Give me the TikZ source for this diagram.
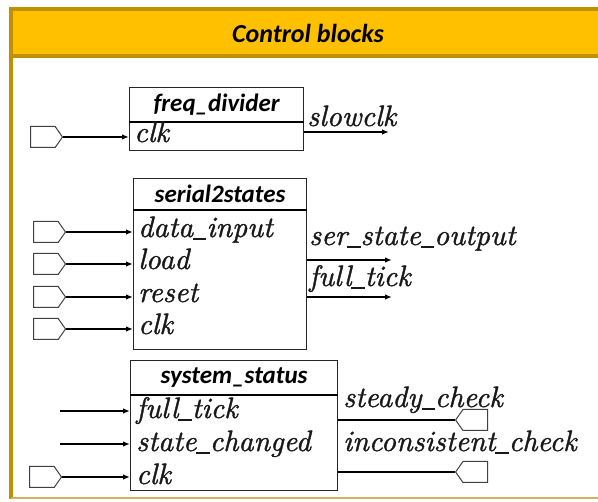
\documentclass[tikz,border=0pt]{standalone}
\usepackage{fontspec}
\newfontfamily\hdrfont{Carlito}
\newfontfamily\sigfont{lmroman10-italic.otf}[FakeBold=1.2]
\usetikzlibrary{shapes.symbols,arrows.meta}
\definecolor{gold}{HTML}{FFC000}
\definecolor{golddark}{HTML}{BF9000}
\definecolor{goldlight}{HTML}{D2B25A}
% short underscore for signal names
\newcommand\usc{\rule[-0.1em]{0.45em}{0.06em}}

\tikzset{
  hdrbox/.style={draw=black!85, line width=1.2pt, inner sep=0pt,
    font=\hdrfont\bfseries\itshape\fontsize{25}{25}\selectfont},
  bodybox/.style={draw=black!85, line width=1.2pt, inner sep=0pt},
  hdrline/.style={draw=black, line width=2pt},
  sig/.style={font=\sigfont\fontsize{29.5}{29.5}\selectfont, inner sep=0pt, text=black!90},
  inport/.style={draw=black!75, line width=1pt, signal, signal to=east,
    signal pointer angle=110, minimum width=32pt, minimum height=21pt, inner sep=0pt},
  outport/.style={draw=black!75, line width=1pt, signal, signal to=west,
    signal pointer angle=110, minimum width=32pt, minimum height=21pt, inner sep=0pt},
  wire/.style={line width=1.6pt, -{Latex[length=7pt,width=5.5pt]}},
  plainwire/.style={line width=1.6pt},
  titletext/.style={font=\hdrfont\bfseries\itshape\fontsize{26}{26}\selectfont, inner sep=0pt}
}

\begin{document}
\begin{tikzpicture}[x=1pt,y=-1pt]
\useasboundingbox (0,0) rectangle (598,502);
\fill[white] (0,0) rectangle (598,502);

% frame and title band
\fill[gold] (10.5,9.5) rectangle (606,56);
\draw[golddark, line width=4pt] (606,9.5) -- (10.5,9.5) -- (10.5,499);
\draw[golddark, line width=4pt] (10.5,56) -- (606,56);
\draw[goldlight, line width=2pt] (10.5,498.5) -- (606,498.5);
\node[titletext] (title) at (308,33) {Control blocks};

% ---------- freq_divider ----------
\node[hdrbox, minimum width=174pt, minimum height=34pt, anchor=north west] (fd-h) at (129,87) {freq\_divider};
\node[bodybox, minimum width=174pt, minimum height=29pt, anchor=north west] (fd) at (129,121) {};
\draw[hdrline] (fd-h.south west) -- (fd-h.south east);
\node[sig, anchor=base west] (fd-clk) at (134,142) {clk};
\node[inport, anchor=west] (fd-p) at (30,137) {};
\draw[wire] (fd-p.east) -- (fd.west |- fd-p.east);
\coordinate (fd-o) at (389,132);
\draw[wire] (fd.east |- fd-o) -- (fd-o);
\node[sig, anchor=base west] (fd-out) at (307,126) {slowclk};

% ---------- serial2states ----------
\node[hdrbox, minimum width=173pt, minimum height=31pt, anchor=north west] (ss-h) at (133,178) {serial2states};
\node[bodybox, minimum width=173pt, minimum height=140pt, anchor=north west] (ss) at (133,209) {};
\draw[hdrline] (ss-h.south west) -- (ss-h.south east);
\foreach \nm/\y/\txt in {a/232/data\usc input, b/264/load, c/297/reset, d/329/clk}{
  \node[inport, anchor=west] (ss-p\nm) at (33,\y) {};
  \draw[wire] (ss-p\nm.east) -- (ss.west |- ss-p\nm.east);
  \node[sig, anchor=base west] (ss-l\nm) at (138,\y+5) {\txt};
}
\coordinate (ss-o1) at (392,260);
\coordinate (ss-o2) at (392,297);
\draw[wire] (ss.east |- ss-o1) -- (ss-o1);
\draw[wire] (ss.east |- ss-o2) -- (ss-o2);
\node[sig, anchor=base west] (ss-out1) at (309,245) {ser\usc state\usc output};
\node[sig, anchor=base west] (ss-out2) at (309,286) {full\usc tick};

% ---------- system_status ----------
\node[hdrbox, minimum width=207pt, minimum height=34pt, anchor=north west] (st-h) at (130,360) {system\_status};
\node[bodybox, minimum width=207pt, minimum height=96pt, anchor=north west] (st) at (130,394) {};
\draw[hdrline] (st-h.south west) -- (st-h.south east);
\coordinate (st-i1) at (60,411);
\coordinate (st-i2) at (60,444);
\draw[wire] (st-i1) -- (st.west |- st-i1);
\draw[wire] (st-i2) -- (st.west |- st-i2);
\node[inport, anchor=west] (st-p3) at (29,477) {};
\draw[wire] (st-p3.east) -- (st.west |- st-p3.east);
\node[sig, anchor=base west] (st-l1) at (136,418) {full\usc tick};
\node[sig, anchor=base west] (st-l2) at (136,451) {state\usc changed};
\node[sig, anchor=base west] (st-l3) at (136,484) {clk};

\node[outport, anchor=west] (st-q1) at (455,420) {};
\node[outport, anchor=west] (st-q2) at (455,472) {};
\draw[plainwire] (st.east |- st-q1.west) -- (st-q1.west);
\draw[plainwire] (st.east |- st-q2.west) -- (st-q2.west);
\node[sig, anchor=base west] (st-o1) at (343,407) {steady\usc check};
\node[sig, anchor=base west] (st-o2) at (343,451) {inconsistent\usc check};
\end{tikzpicture}
\end{document}
